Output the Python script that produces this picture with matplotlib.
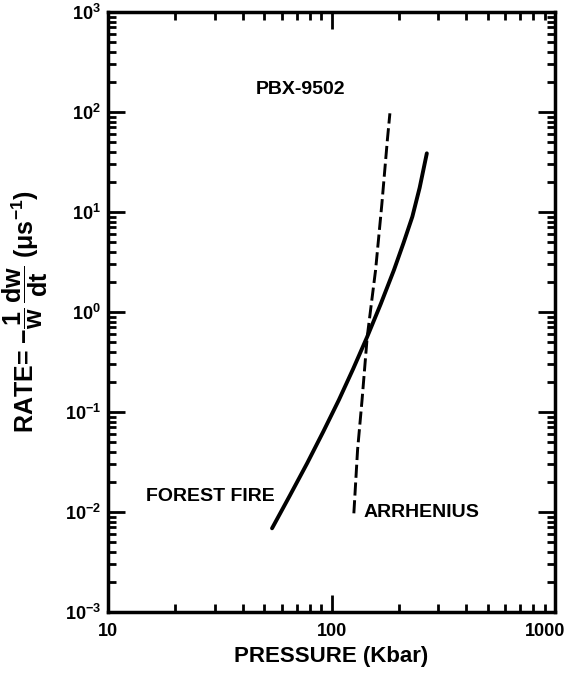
import numpy as np
import matplotlib
matplotlib.use("Agg")
import matplotlib.pyplot as plt
from matplotlib.ticker import LogLocator, FixedLocator, NullFormatter
from matplotlib.transforms import ScaledTranslation

# =========================
# Data
# =========================
forest_p = [54.2, 65.0, 77.8, 92.0, 107.9, 125.0, 144.5, 166.0, 190.3, 210.0, 230.0, 248.0, 267.0]
forest_rate = [0.00687, 0.0145, 0.0307, 0.064, 0.132, 0.27, 0.566, 1.20, 2.63, 4.90, 8.98, 17.5, 38.6]

arrh_p = [125.9, 130.8, 137.0, 144.5, 157.5, 168.0, 177.8, 182.5]
arrh_rate = [0.0097, 0.0417, 0.132, 0.566, 2.63, 12.0, 52.5, 97.0]

x_ticks = [10, 100, 1000]
x_tick_labels = ["10", "100", "1000"]
y_ticks = [1e-3, 1e-2, 1e-1, 1e0, 1e1, 1e2, 1e3]
y_tick_labels = [r"$\mathbf{10^{-3}}$", r"$\mathbf{10^{-2}}$", r"$\mathbf{10^{-1}}$",
                 r"$\mathbf{10^{0}}$", r"$\mathbf{10^{1}}$", r"$\mathbf{10^{2}}$",
                 r"$\mathbf{10^{3}}$"]

# =========================
# Style
# =========================
plt.rcParams["font.family"] = ["Liberation Sans", "DejaVu Sans"]
plt.rcParams["font.weight"] = "bold"
plt.rcParams["mathtext.fontset"] = "custom"
plt.rcParams["mathtext.rm"] = "Liberation Sans:bold"
plt.rcParams["mathtext.bf"] = "Liberation Sans:bold"
plt.rcParams["mathtext.it"] = "Liberation Sans:bold"
plt.rcParams["mathtext.default"] = "bf"

fig = plt.figure(figsize=(5.71, 6.74), dpi=100)
ax = fig.add_axes([108 / 571, 1 - 612 / 674, 447 / 571, 600 / 674])

ax.plot(forest_p, forest_rate, color="black", linewidth=2.8,
        solid_capstyle="round", solid_joinstyle="round")
ax.plot(arrh_p, arrh_rate, color="black", linewidth=2.1, linestyle=(0, (4.5, 1.6)))

ax.set_xscale("log")
ax.set_yscale("log")
ax.set_xlim(10, 1000)
ax.set_ylim(1e-3, 1e3)

# =========================
# Ticks
# =========================
ax.xaxis.set_major_locator(FixedLocator(x_ticks))
ax.set_xticklabels(x_tick_labels)
ax.yaxis.set_major_locator(FixedLocator(y_ticks))
ax.set_yticklabels(y_tick_labels)
ax.xaxis.set_minor_locator(LogLocator(base=10, subs=np.arange(2, 10), numticks=20))
ax.yaxis.set_minor_locator(LogLocator(base=10, subs=np.arange(2, 10), numticks=20))
ax.xaxis.set_minor_formatter(NullFormatter())
ax.yaxis.set_minor_formatter(NullFormatter())

ax.tick_params(which="both", direction="in", top=True, right=True, width=2.0)
ax.tick_params(which="major", length=12, labelsize=13)
ax.tick_params(axis="x", which="major", pad=8)
ax.tick_params(axis="y", which="major", pad=5)
ax.tick_params(which="minor", length=6)
for s in ax.spines.values():
    s.set_linewidth(2.5)

# nudge "1000" left so it stays inside the figure
last = ax.get_xticklabels()[-1]
last.set_transform(last.get_transform() + ScaledTranslation(-10 / 100, 0, fig.dpi_scale_trans))

# =========================
# Labels
# =========================
ax.set_xlabel("PRESSURE (Kbar)", fontsize=16, fontweight="bold", labelpad=4)
ax.set_ylabel(r"RATE= $-\dfrac{1}{w}\,\dfrac{dw}{dt}$ ($\mu$s$^{-1}$)",
              fontsize=18, fontweight="bold")
ax.yaxis.set_label_coords(-0.13, 0.5)

ax.text(45.6, 166, "PBX-9502", fontsize=14, fontweight="bold", va="center")
ax.text(14.8, 0.0144, "FOREST FIRE", fontsize=14, fontweight="bold", va="center")
ax.text(139, 0.0098, "ARRHENIUS", fontsize=14, fontweight="bold", va="center")

fig.savefig("out.png", dpi=100)
